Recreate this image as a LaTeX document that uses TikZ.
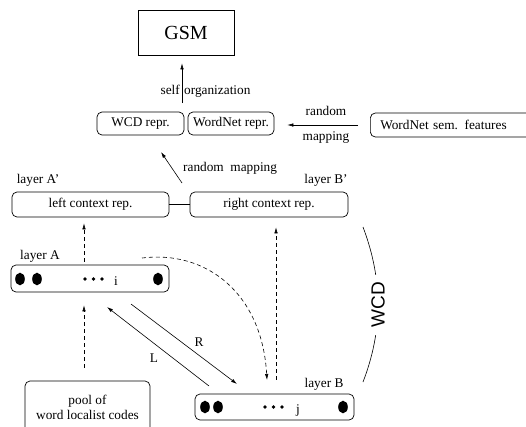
\documentclass[tikz,border=0pt]{standalone}
\usepackage{fontspec}
\setmainfont{Liberation Serif}
\newfontfamily\labelsans{Liberation Sans}
\usetikzlibrary{arrows.meta}

\begin{document}
\begin{tikzpicture}[x=1pt,y=-1pt,
  every node/.style={font=\fontsize{13.3}{15}\selectfont},
  box/.style={draw, line width=0.7pt, rounded corners=5pt, inner sep=0pt},
  plainbox/.style={draw, line width=0.7pt, inner sep=0pt},
  tag/.style={inner sep=0pt, anchor=base},
  link/.style={line width=0.6pt},
  arr/.style={link, -{Latex[length=6pt,width=3.5pt]}},
  darr/.style={arr, dash pattern=on 4pt off 3pt},
  bigdot/.style={fill, x radius=4.8pt, y radius=6.3pt},
  smalldot/.style={fill, radius=1.8pt}
]
\useasboundingbox (0,0) rectangle (526,426);

% ---- boxes ----
\node[plainbox, minimum width=96pt, minimum height=45pt,
      font=\fontsize{20}{24}\selectfont] (gsm) at (186,32.5) {GSM};
\node[box, minimum width=87pt, minimum height=23pt] (wcdr) at (140.5,123.5) {WCD repr.};
\node[box, minimum width=86pt, minimum height=23pt] (wnr) at (231,123.5) {WordNet repr.};
\node[box, anchor=west, minimum height=24pt, text width=150pt, align=left,
      inner xsep=10pt] (wns) at (370,125) {WordNet sem. features};
\node[box, minimum width=157pt, minimum height=25pt] (lctx) at (90.5,204.5) {left context rep.};
\node[box, minimum width=158pt, minimum height=25pt] (rctx) at (269,204.5) {right context rep.};
\node[box, minimum width=158pt, minimum height=27pt] (layA) at (90,278.5) {};
\node[box, minimum width=159pt, minimum height=26pt] (layB) at (274.5,407) {};
\node[box, minimum width=125pt, minimum height=52pt, align=center] (pool) at (87.5,407)
  {pool of\\word localist codes};

% ---- units inside layer A and layer B ----
\fill (20,279) ellipse [bigdot];
\fill (37,279) ellipse [bigdot];
\fill (158,279) ellipse [bigdot];
\fill (85,279) circle [smalldot];
\fill (93.5,279) circle [smalldot];
\fill (102,279) circle [smalldot];
\node[tag] (unitI) at (116,285) {i};

\fill (205,407) ellipse [bigdot];
\fill (218,407) ellipse [bigdot];
\fill (343,407) ellipse [bigdot];
\fill (265,407) circle [smalldot];
\fill (273.5,407) circle [smalldot];
\fill (282,407) circle [smalldot];
\node[tag] (unitJ) at (298,413) {j};

% ---- layer labels ----
\node[tag] (labAp) at (38,183) {layer A'};
\node[tag] (labBp) at (326,183) {layer B'};
\node[tag] (labA) at (40,259) {layer A};
\node[tag] (labB) at (324,387) {layer B};

% ---- reference coordinates ----
\coordinate (so) at (182,103);
\coordinate (xA) at (84,0);
\coordinate (xB) at (276,0);
\coordinate (rmS) at (182,183);
\coordinate (rmE) at (161,152);
\coordinate (cS) at (142,258);
\coordinate (cE) at (267,380);
\coordinate (LS) at (209,386);
\coordinate (LE) at (107,307);
\coordinate (RS) at (131,304);
\coordinate (RE) at (237,384);
\coordinate (wT) at (363,227);
\coordinate (wB) at (363,382);

% ---- connectors ----
\draw[arr, shorten >=8pt] (so) -- (so |- gsm.south);
\node[inner sep=0pt, anchor=base east] (selfT) at (180,94) {self};
\node[inner sep=0pt, anchor=base west] (orgT) at (184,94) {organization};

\draw[arr, shorten <=12pt, shorten >=13pt] (wns.west) -- (wns.west -| wnr.east);
\node[tag] (rndT) at (326,115) {random};
\node[tag] (mapT) at (326,140) {mapping};

\draw[arr] (rmS) -- (rmE);
\node[inner sep=0pt, anchor=base west] (rmT) at (183,171) {random~~mapping};

\draw[link] (lctx.east) -- (rctx.west);

\draw[darr, shorten <=3pt, shorten >=6pt] (layA.north -| xA) -- (lctx.south -| xA);
\draw[darr, shorten <=13pt, shorten >=13pt] (pool.north -| xA) -- (layA.south -| xA);
\draw[darr, shorten <=14pt, shorten >=10pt] (layB.north -| xB) -- (rctx.south -| xB);
\draw[darr] (cS) .. controls (205,250) and (262,292) .. (cE);

\draw[arr] (LS) -- (LE);
\draw[arr] (RS) -- (RE);
\node (Rt) at (199,342) {R};
\node (Lt) at (154,358) {L};

\draw[link] (wT) .. controls (383,280) and (383,330) .. (wB)
  node[midway, fill=white, rotate=90, inner xsep=7pt, inner ysep=1pt,
       font=\labelsans\fontsize{19}{22}\selectfont] (wcdT) {WCD};
\end{tikzpicture}
\end{document}
